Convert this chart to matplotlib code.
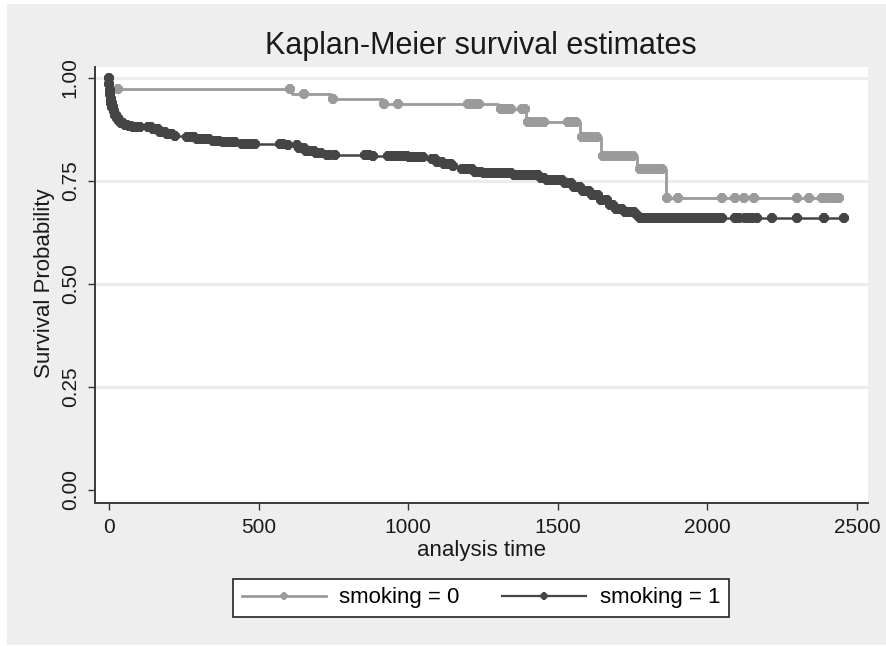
import numpy as np
import matplotlib
matplotlib.use("Agg")
import matplotlib.pyplot as plt
from matplotlib.patches import Rectangle
from matplotlib.lines import Line2D

plt.rcParams['font.family'] = ['Liberation Sans', 'DejaVu Sans']

# ---------------- data ----------------
title = "Kaplan-Meier survival estimates"
xlabel = "analysis time"
ylabel = "Survival Probability"
group_labels = ["smoking = 0", "smoking = 1"]
x_ticks = [0, 500, 1000, 1500, 2000, 2500]
y_ticks = [0.00, 0.25, 0.50, 0.75, 1.00]
y_ticklabels = ["0.00", "0.25", "0.50", "0.75", "1.00"]

# smoking = 0 : step times and survival after each step
g0_times = [0, 8, 612, 742, 915, 1300, 1395, 1575, 1645, 1765, 1862]
g0_surv = [1.000, 0.973, 0.960, 0.948, 0.936, 0.924, 0.893, 0.856, 0.811, 0.778, 0.708]
g0_end = 2440
g0_censor = [30, 605, 652, 749, 918, 965, 1200, 1212, 1225, 1238, 1310, 1320, 1332, 1345,
             1380, 1390, 1400, 1412, 1425, 1440, 1455, 1535, 1548, 1560, 1580, 1592,
             1605, 1618, 1632, 1650, 1662, 1676, 1690, 1705, 1720, 1735, 1750, 1775,
             1790, 1805, 1820, 1835, 1850, 1866, 1903, 2048, 2091, 2121, 2155, 2299,
             2339, 2383, 2398, 2412, 2426, 2440]

# smoking = 1
g1_times = [0, 1, 2, 3, 5, 7, 10, 14, 19, 25, 32, 40, 50, 62, 78, 140, 165, 190, 215,
            250, 290, 335, 380, 440, 585, 630, 660, 690, 715, 880, 1000, 1055, 1090,
            1120, 1150, 1180, 1215, 1250, 1345, 1435, 1460, 1515, 1545, 1580, 1610,
            1640, 1665, 1690, 1720, 1757, 1770]
g1_surv = [1.000, 0.985, 0.972, 0.960, 0.950, 0.940, 0.930, 0.920, 0.911, 0.903, 0.896,
           0.890, 0.886, 0.883, 0.880, 0.875, 0.870, 0.865, 0.860, 0.856, 0.852, 0.848,
           0.845, 0.841, 0.837, 0.830, 0.823, 0.818, 0.814, 0.811, 0.808, 0.803, 0.797,
           0.791, 0.786, 0.780, 0.772, 0.769, 0.765, 0.758, 0.752, 0.744, 0.736, 0.726,
           0.716, 0.704, 0.692, 0.683, 0.675, 0.667, 0.659]
g1_end = 2456
g1_censor = [0, 1, 2, 3, 4, 5, 6, 7, 8, 9, 10, 11, 12, 13, 15, 17, 19, 21, 23, 25, 28,
             31, 34, 37, 40, 44, 48, 52, 56, 60, 65, 70, 75, 80, 85, 90, 95, 100, 105,
             131, 139, 147, 155, 163, 171, 179, 187, 195, 203, 211, 219,
             261, 269, 277, 285, 293, 301, 309, 317, 325, 333, 348, 358, 368, 381,
             395, 405, 414, 421, 445, 453, 461, 469, 477, 488,
             572, 583, 598, 628, 636, 644, 652, 660, 668, 676, 684, 692, 700, 708,
             729, 740, 756, 856, 868, 883, 933, 942, 950, 958, 966, 975, 983, 996,
             1004, 1012, 1020, 1028, 1036, 1044, 1050, 1080, 1088, 1096, 1104, 1112,
             1120, 1128, 1136, 1144, 1150, 1180, 1190, 1200, 1213, 1223, 1232, 1242,
             1252, 1262, 1274, 1284, 1294, 1304, 1314, 1324, 1334, 1344, 1354, 1364,
             1374, 1384, 1394, 1404, 1414, 1424, 1434, 1444, 1454, 1464, 1474, 1484,
             1494, 1504, 1514, 1524, 1534, 1544, 1554, 1564, 1574, 1584, 1594, 1604,
             1614, 1624, 1634, 1644, 1654, 1664, 1674, 1684, 1694, 1704, 1714, 1724,
             1734, 1744, 1754, 1764, 1774, 1784, 1794, 1804, 1814, 1824, 1834, 1844,
             1854, 1864, 1874, 1884, 1894, 1904, 1914, 1924, 1934, 1944, 1954, 1964,
             1974, 1984, 1994, 2004, 2014, 2024, 2036, 2048, 2091, 2105, 2125, 2138,
             2150, 2165, 2215, 2299, 2389, 2456]

colors = ["#9b9b9b", "#454545"]

# ---------------- figure ----------------
W, H = 887, 646
fig = plt.figure(figsize=(W / 100, H / 100), dpi=100, facecolor="white")
fig.add_artist(Rectangle((7 / W, 1 / H), 1 - 7 / W, 1 - 5 / H, transform=fig.transFigure,
                         facecolor="#eeeeee", edgecolor="none", zorder=-10))

ax = fig.add_axes([95 / W, 1 - 503 / H, (868 - 95) / W, (503 - 67) / H])
ax.set_facecolor("white")

for yv in [0.25, 0.50, 0.75, 1.00]:
    ax.axhline(yv, color="#ececec", lw=2.2, zorder=0)


def draw(times, surv, end, censor, color, lw):
    t = np.array(times + [end], dtype=float)
    s = np.array(surv + [surv[-1]], dtype=float)
    ax.step(t, s, where="post", color=color, lw=lw, zorder=2)
    c = np.array(censor, dtype=float)
    idx = np.searchsorted(np.array(times, dtype=float), c, side="right") - 1
    cs = np.array(surv)[idx]
    ax.plot(c, cs, linestyle="none", marker="8", ms=8.5, mfc=color, mec=color,
            mew=0, zorder=3)


draw(g0_times, g0_surv, g0_end, g0_censor, colors[0], 2.0)
draw(g1_times, g1_surv, g1_end, g1_censor, colors[1], 1.8)

ax.set_xlim(-47, 2537)
ax.set_ylim(-0.0316, 1.0267)
ax.set_xticks(x_ticks)
ax.set_xticklabels([str(v) for v in x_ticks])
ax.set_yticks(y_ticks)
ax.set_yticklabels(y_ticklabels, rotation=90, va="center")
ax.tick_params(axis="both", direction="out", length=5, width=1.0, color="#333333",
               labelsize=15, labelcolor="#1a1a1a")
ax.tick_params(axis="x", pad=6)
ax.tick_params(axis="y", pad=6)
for side in ["top", "right"]:
    ax.spines[side].set_visible(False)
for side in ["left", "bottom"]:
    ax.spines[side].set_color("#3a3a3a")
    ax.spines[side].set_linewidth(1.4)

ax.set_xlabel(xlabel, fontsize=16, color="#1a1a1a", labelpad=2)
fig.text(45 / W, 1 - 283 / H, ylabel, rotation=90, fontsize=16, color="#1a1a1a",
         ha="center", va="center")
fig.text(481 / W, 1 - 46 / H, title, fontsize=22, color="#1a1a1a", ha="center",
         va="center")

handles = [Line2D([0], [0], color=colors[0], lw=2.0, marker="8", ms=5.5, mew=0),
           Line2D([0], [0], color=colors[1], lw=1.6, marker="8", ms=5.5, mew=0)]
leg = fig.legend(handles, group_labels, ncol=2, loc="center",
                 bbox_to_anchor=((232 + 730) / 2 / W, 1 - 598 / H), fontsize=16,
                 frameon=True, fancybox=False, handlelength=3.8, handletextpad=0.6,
                 columnspacing=1.9, borderpad=0.4)
leg.get_frame().set_edgecolor("#222222")
leg.get_frame().set_linewidth(1.2)
leg.get_frame().set_facecolor("white")
leg.get_frame().set_alpha(1)

fig.savefig("out.png", dpi=100, facecolor=fig.get_facecolor())
